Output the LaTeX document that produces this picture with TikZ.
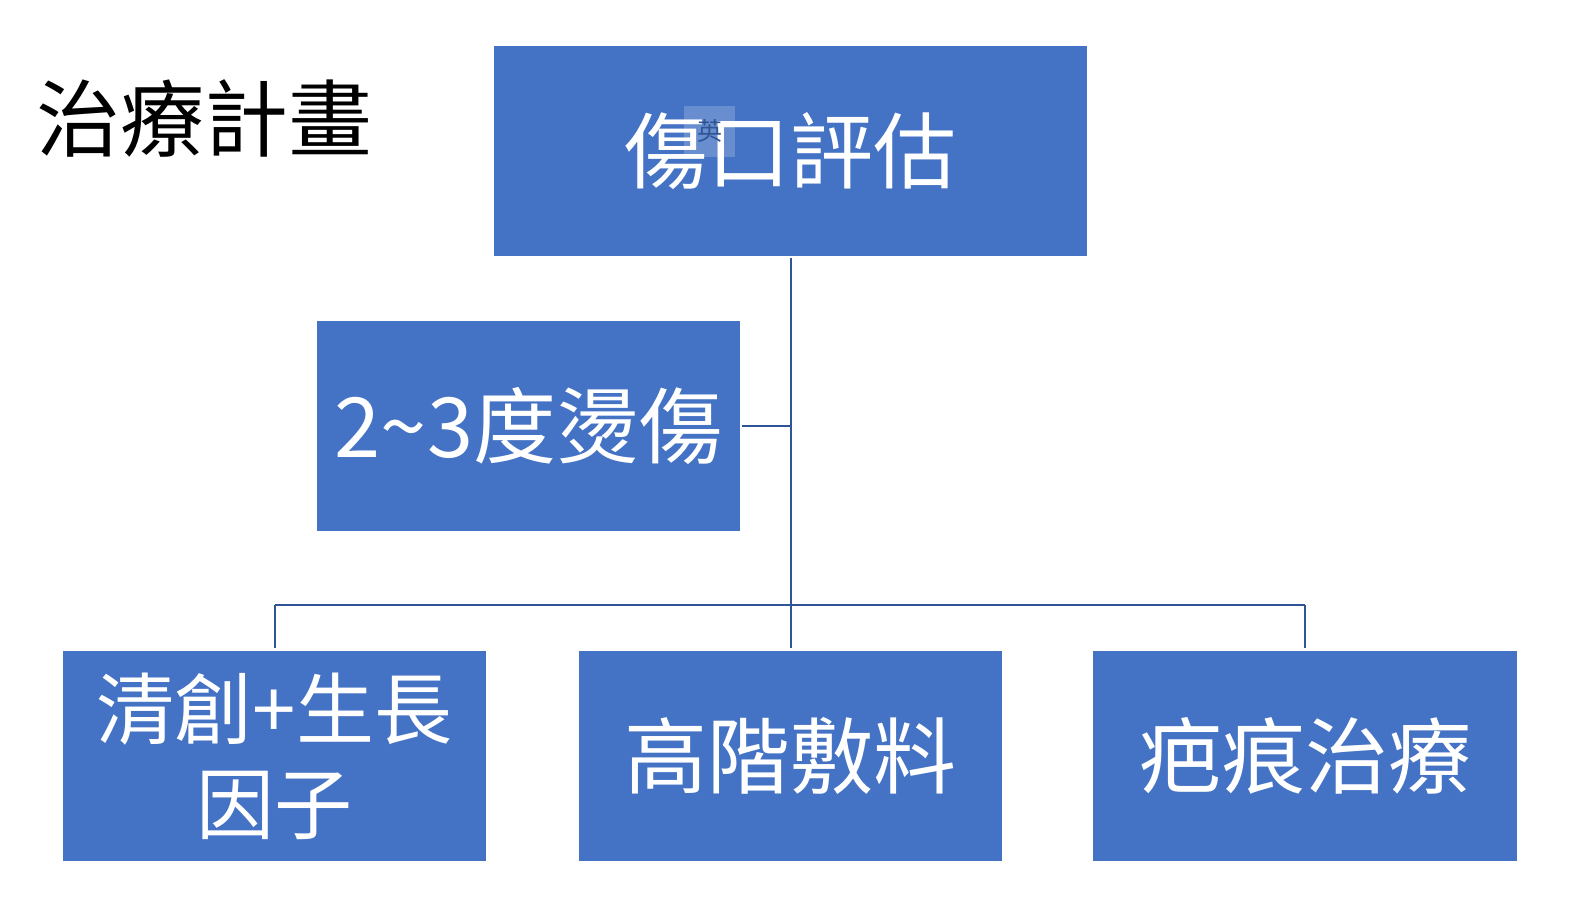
\documentclass[tikz,border=0pt]{standalone}
\usepackage{fontspec}
\newfontfamily\cjk{Noto Sans CJK TC}
\definecolor{boxblue}{HTML}{4472C4}
\definecolor{lineblue}{HTML}{2F5597}
\tikzset{
  box/.style={fill=boxblue, draw=none, inner sep=0pt, minimum width=423pt, minimum height=210pt,
    text=white, font=\cjk\fontsize{83}{95}\selectfont, align=center},
  conn/.style={draw=lineblue, line width=2pt},
}
\begin{document}
\begin{tikzpicture}[x=1pt,y=-1pt]
\useasboundingbox[fill=white] (0,0) rectangle (1569,900);
\node[font=\cjk\fontsize{84}{95}\selectfont, text=black, inner sep=0pt] (title) at (204,118) {治療計畫};
\node[box, minimum width=593pt] (top) at (790.5,151) {傷口評估};
\node[fill=white, fill opacity=0.2, text opacity=1, text=lineblue, inner sep=0pt,
  minimum width=51pt, minimum height=51pt, font=\cjk\fontsize{25}{27}\selectfont] (ime) at (709.5,131.5) {英};
\node[box] (mid) at (528.5,426) {2\textasciitilde3度燙傷};
\node[box, font=\cjk\fontsize{78}{95}\selectfont] (bl) at (274.5,756) {清創+生長\\因子};
\node[box] (bm) at (790.5,756) {高階敷料};
\node[box, minimum width=424pt] (br) at (1305,756) {疤痕治療};
\coordinate (barc) at (790.5,605);
\draw[conn, shorten <=2pt, shorten >=3pt] (top.south) -- (bm.north);
\draw[conn, shorten <=2pt] (mid.east) -- (mid.east -| top.south);
\draw[conn] (bl.north |- barc) -- (br.north |- barc);
\draw[conn, shorten >=3pt] (bl.north |- barc) -- (bl.north);
\draw[conn, shorten >=3pt] (br.north |- barc) -- (br.north);
\end{tikzpicture}
\end{document}
